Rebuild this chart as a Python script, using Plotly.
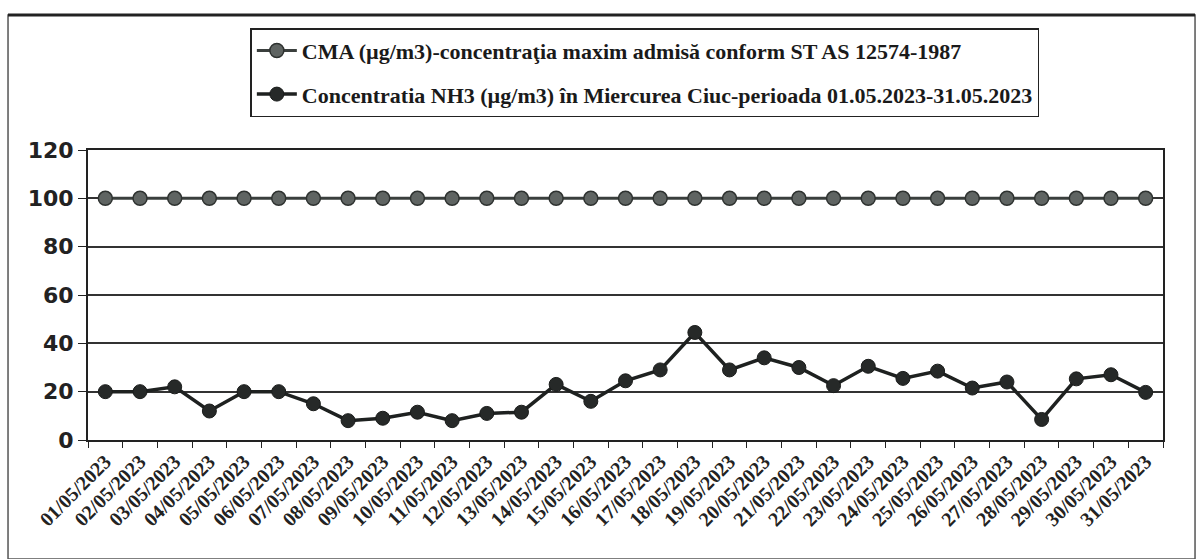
import plotly.graph_objects as go

dates = [f"{d:02d}/05/2023" for d in range(1, 32)]
cma = [100] * 31
nh3 = [20, 20, 22, 12, 20, 20, 15, 8, 9, 11.5, 8, 11, 11.5, 23, 16, 24.5, 29, 44.5,
       29, 34, 30, 22.5, 30.5, 25.5, 28.5, 21.5, 24, 8.5, 25.3, 27, 19.7]
name_cma = "CMA (µg/m3)-concentraţia maxim admisă conform ST AS 12574-1987"
name_nh3 = "Concentratia NH3 (µg/m3) în Miercurea Ciuc-perioada 01.05.2023-31.05.2023"
y_ticks = [0, 20, 40, 60, 80, 100, 120]

fig = go.Figure()
fig.add_trace(go.Scatter(
    x=dates, y=cma, name=name_cma, mode="lines+markers", legendgroup="a",
    line=dict(color="#3a3f3d", width=3),
    marker=dict(size=14, color="#5f6462", line=dict(color="#2e3230", width=1.5))))
fig.add_trace(go.Scatter(
    x=dates, y=nh3, name=name_nh3, mode="lines+markers", legendgroup="b",
    line=dict(color="#1e2120", width=3.5),
    marker=dict(size=14, color="#262928", line=dict(color="#1a1c1b", width=1))))

fig.update_layout(
    width=1204, height=559,
    margin=dict(l=88, r=41, t=150, b=119, autoexpand=False),
    paper_bgcolor="white", plot_bgcolor="white",
    showlegend=True,
    legend=dict(
        x=0.518, xanchor="center", y=1.42, yanchor="top",
        bordercolor="#222", borderwidth=1.5, bgcolor="white",
        font=dict(family="Liberation Serif", size=22, color="#1a1a1a", weight="bold"),
        traceorder="grouped", tracegroupgap=12, itemwidth=40,
    ),
    xaxis=dict(
        type="category", tickmode="array", tickvals=dates, ticktext=dates,
        tickson="boundaries", ticks="outside", ticklen=6, tickcolor="#222",
        tickangle=-45, range=[-0.5, 30.5],
        showline=True, linecolor="#222", linewidth=2, mirror=True,
        showgrid=False,
        tickfont=dict(family="Liberation Serif", size=20, color="#222", weight="bold"),
    ),
    yaxis=dict(
        range=[0, 120], tickmode="array", tickvals=y_ticks,
        ticks="outside", ticklen=8, tickcolor="#222",
        showline=True, linecolor="#222", linewidth=2, mirror=True,
        showgrid=True, gridcolor="#333", gridwidth=1.5, zeroline=False,
        tickfont=dict(family="DejaVu Sans", size=22, color="#222", weight="bold"),
    ),
)

# outer frame of the scanned chart
fig.add_shape(type="rect", xref="paper", yref="paper",
              x0=-0.0744, x1=1.0298, y0=-0.41, y1=1.4655,
              line=dict(color="#555", width=1.5), layer="below")
fig.add_shape(type="line", xref="paper", yref="paper",
              x0=-0.0744, x1=1.0298, y0=1.4655, y1=1.4655,
              line=dict(color="#222", width=3))

fig.write_html("out.html", config={"displayModeBar": False},
               post_script="document.body.style.margin='0';document.body.style.overflow='hidden';")
